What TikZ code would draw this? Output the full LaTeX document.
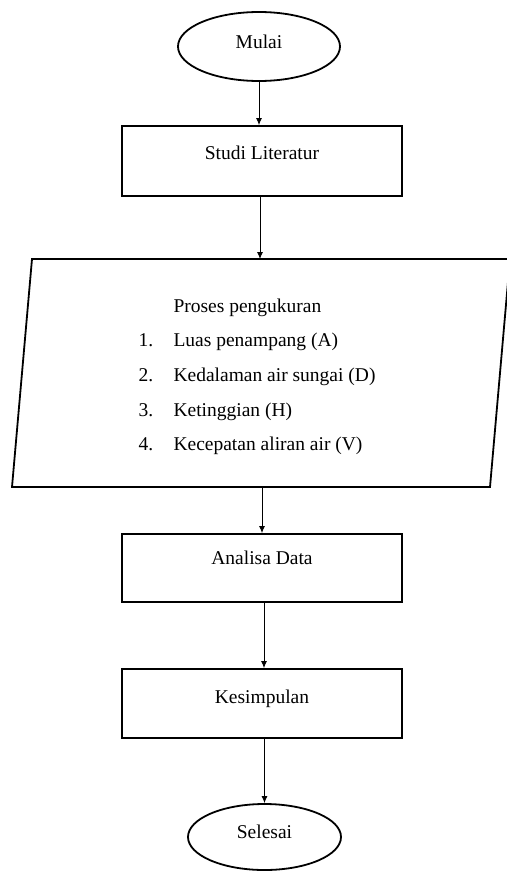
\documentclass[tikz,border=0pt]{standalone}
\usepackage{fontspec}
\setmainfont{Liberation Serif}
\usetikzlibrary{shapes.geometric,arrows.meta}

\begin{document}
\begin{tikzpicture}[x=1pt,y=-1pt,
  every node/.style={font=\fontsize{19.5}{24}\selectfont},
  box/.style={draw,line width=1.8pt,minimum width=280pt,inner sep=0pt},
  term/.style={draw,ellipse,line width=1.8pt,inner sep=0pt},
  flow/.style={-{Latex[length=7pt,width=6pt]},line width=0.9pt}]

  \useasboundingbox (0,0) rectangle (506,872);

  % start and end
  \node[term,minimum width=162pt,minimum height=69pt] (mulai) at (259,46.5) {};
  \node (mulai-t) at (259,42) {Mulai};
  \node[term,minimum width=153pt,minimum height=66pt] (selesai) at (264.5,837) {};
  \node (selesai-t) at (264.5,832) {Selesai};

  % boxes
  \node[box,minimum height=70pt] (studi) at (262,161) {};
  \node (studi-t) at (262,153) {Studi Literatur};
  \node[box,minimum height=68pt] (analisa) at (262,568) {};
  \node (analisa-t) at (262,558) {Analisa Data};
  \node[box,minimum height=69pt] (kesimpulan) at (262,703.5) {};
  \node (kesimpulan-t) at (262,699) {Kesimpulan};

  % measurement block
  \draw[line width=1.8pt] (32,259) -- (510,259) -- (490,487) -- (12,487) -- cycle;
  \coordinate (ptop) at (260,259);
  \coordinate (pbot) at (262,487);
  \node[anchor=base west] (proses) at (170,312) {Proses pengukuran};
  \foreach \i/\y/\t in {1/346/Luas penampang (A),
    2/381/Kedalaman air sungai (D),
    3/416/Ketinggian (H),
    4/450/Kecepatan aliran air (V)} {
    \node[anchor=base west] (num\i) at (135,\y) {\i.};
    \node[anchor=base west] (item\i) at (170,\y) {\t};
  }

  % arrows
  \draw[flow] (mulai.south) -- (mulai.south |- studi.north);
  \draw[flow] (ptop |- studi.south) -- (ptop);
  \draw[flow] (pbot) -- (pbot |- analisa.north);
  \draw[flow] (264,0 |- analisa.south) -- (264,0 |- kesimpulan.north);
  \draw[flow] (selesai.north |- kesimpulan.south) -- (selesai.north);

\end{tikzpicture}
\end{document}
